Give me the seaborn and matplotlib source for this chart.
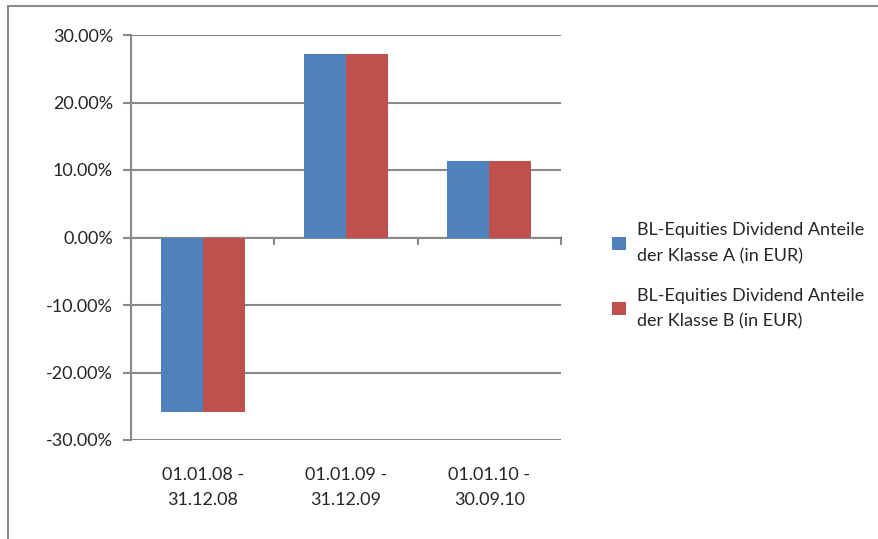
import pandas as pd
import matplotlib.pyplot as plt
import matplotlib.ticker as mticker
from matplotlib.lines import Line2D
import seaborn as sns

# data (percent)
periods = ['01.01.08 -\n31.12.08', '01.01.09 -\n31.12.09', '01.01.10 -\n30.09.10']
series_names = ['BL-Equities Dividend Anteile\nder Klasse A (in EUR)',
                'BL-Equities Dividend Anteile\nder Klasse B (in EUR)']
class_a = [-25.85, 27.25, 11.3]
class_b = [-25.85, 27.25, 11.3]
y_ticks = [-30, -20, -10, 0, 10, 20, 30]

colors = ['#4F81BD', '#C0504D']
grid_color = '#898989'

df = pd.DataFrame({
    'period': periods * 2,
    'series': [series_names[0]] * 3 + [series_names[1]] * 3,
    'value': class_a + class_b,
})

sns.set_style('white')
plt.rcParams['font.family'] = ['Lato', 'DejaVu Sans']

fig = plt.figure(figsize=(8.79, 5.39), dpi=100)
ax = fig.add_axes([131 / 879, 1 - 440 / 539, 430 / 879, 405 / 539])

sns.barplot(data=df, x='period', y='value', hue='series', palette=colors,
            width=0.586, saturation=1, ax=ax, linewidth=0)

ax.set_ylim(-30, 30)
ax.set_xlim(-0.5, 2.5)
ax.set_yticks(y_ticks)
ax.yaxis.set_major_formatter(mticker.FuncFormatter(lambda v, p: f'{v:.2f}%'))
ax.set_xlabel('')
ax.set_ylabel('')

ax.set_axisbelow(True)
ax.yaxis.grid(True, color=grid_color, linewidth=1.5)
ax.xaxis.grid(False)
for s in ['top', 'right', 'bottom']:
    ax.spines[s].set_visible(False)
ax.spines['left'].set_color(grid_color)
ax.spines['left'].set_linewidth(1.5)

ax.tick_params(axis='y', direction='out', length=6, width=1.5, color=grid_color,
               labelsize=13, pad=7, left=True)
ax.tick_params(axis='x', length=0, labelsize=13, pad=19.5)
ax.set_xticks(range(len(periods)))
ax.set_xticklabels(periods, linespacing=1.7)

# category axis drawn at 0 with ticks between groups
sec = ax.secondary_xaxis(0.5)
sec.set_xticks([-0.5, 0.5, 1.5, 2.5])
sec.set_xticklabels([])
sec.xaxis.set_ticks_position('bottom')
sec.tick_params(direction='out', length=5, width=1.5, color=grid_color,
                labelbottom=False, labeltop=False, top=False)
sec.spines['bottom'].set_color(grid_color)
sec.spines['bottom'].set_linewidth(1.5)

# legend on the right
handles, labels = ax.get_legend_handles_labels()
leg = ax.legend(handles, labels, loc='upper left', bbox_to_anchor=(596 / 879, 1 - 206 / 539),
                bbox_transform=fig.transFigure, frameon=False, fontsize=13,
                handlelength=0.75, handleheight=0.75, handletextpad=0.6,
                labelspacing=1.3)
for t in leg.get_texts():
    t.set_linespacing(1.75)

# chart frame (partly cut off)
fig.add_artist(Line2D([8 / 879, 8 / 879], [0, 1 - 6 / 539], color=grid_color, lw=1.5))
fig.add_artist(Line2D([8 / 879, 1], [1 - 6 / 539, 1 - 6 / 539], color=grid_color, lw=1.5))

fig.savefig('out.png', dpi=100)
